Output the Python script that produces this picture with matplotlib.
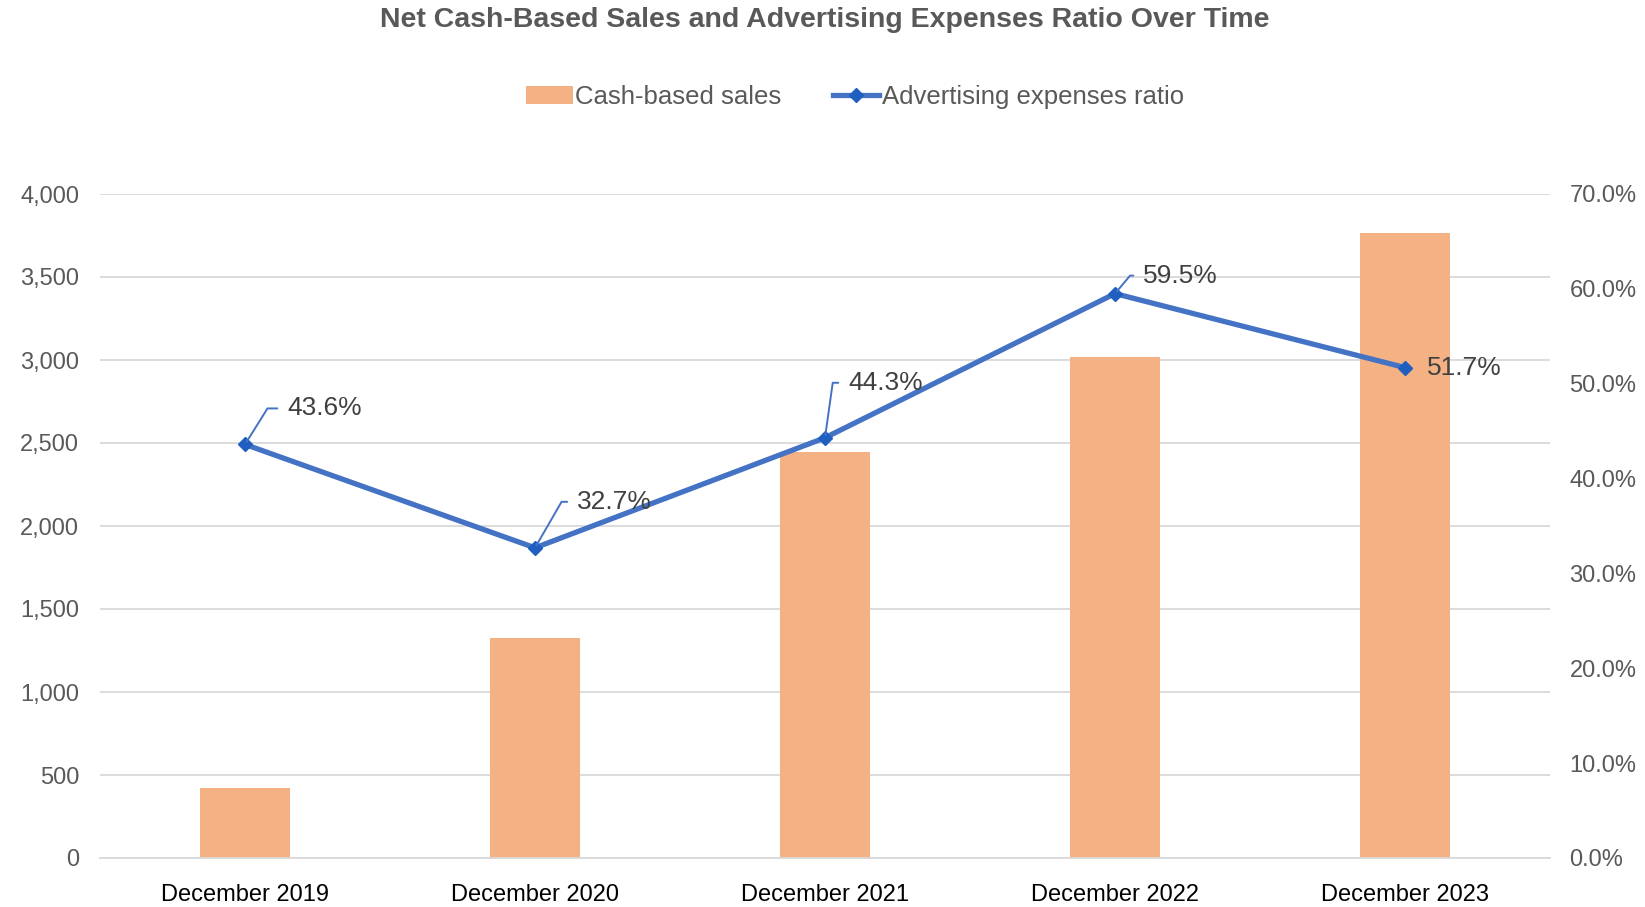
import matplotlib.pyplot as plt
import matplotlib.ticker as mticker

plt.rcParams['font.family'] = ['Liberation Sans', 'DejaVu Sans']

# data
periods = ['December 2019', 'December 2020', 'December 2021', 'December 2022', 'December 2023']
cash_sales = [423, 1327, 2448, 3016, 3768]
ad_ratio = [43.6, 32.7, 44.3, 59.5, 51.7]

# label offsets in pixels (dx, dy) and leader angle at the point
label_offsets = [(42, 36, 58), (42, 46, 60), (23, 55, 82), (28, 18, 50), (22, 0, None)]

bar_color = '#F4B183'
line_color = '#4472C4'
marker_color = '#1F5FBF'
grid_color = '#D9D9D9'
text_gray = '#595959'

fig = plt.figure(figsize=(16.45, 9.07), dpi=100)
ax = fig.add_axes([100 / 1645, 1 - 858 / 907, 1450 / 1645, 664 / 907])
ax2 = ax.twinx()

x = list(range(len(periods)))
ax.bar(x, cash_sales, width=0.31, color=bar_color, zorder=2, label='Cash-based sales')
ax.set_xlim(-0.5, len(periods) - 0.5)
ax.set_ylim(0, 4000)
ax.yaxis.set_major_locator(mticker.MultipleLocator(500))
ax.yaxis.set_major_formatter(mticker.FuncFormatter(lambda v, p: f'{v:,.0f}'))
ax.grid(axis='y', color=grid_color, linewidth=1.3, zorder=0)
ax.set_axisbelow(True)
ax.set_xticks(x)
ax.set_xticklabels(periods, fontsize=17, color='#000000')
ax.tick_params(axis='x', length=0, pad=19)
ax.tick_params(axis='y', length=0, pad=15, labelsize=17, labelcolor=text_gray)
for s in ['top', 'right', 'left']:
    ax.spines[s].set_visible(False)
ax.spines['bottom'].set_color(grid_color)
ax.spines['bottom'].set_linewidth(1.3)

ax2.plot(x, ad_ratio, color=line_color, linewidth=3.8, marker='D', markersize=7,
         markerfacecolor=marker_color, markeredgecolor=marker_color, zorder=3,
         label='Advertising expenses ratio')
ax2.set_ylim(0, 70)
ax2.yaxis.set_major_locator(mticker.MultipleLocator(10))
ax2.yaxis.set_major_formatter(mticker.FuncFormatter(lambda v, p: f'{v:.1f}%'))
ax2.tick_params(axis='y', length=0, pad=14, labelsize=17, labelcolor=text_gray)
for s in ax2.spines.values():
    s.set_visible(False)

for xi, val, (dx, dy, ang) in zip(x, ad_ratio, label_offsets):
    if ang is None:
        ax2.annotate(f'{val:.1f}%', xy=(xi, val), xytext=(dx, dy), textcoords='offset pixels',
                     ha='left', va='center', fontsize=19, color='#404040', zorder=5)
    else:
        ax2.annotate(f'{val:.1f}%', xy=(xi, val), xytext=(dx, dy), textcoords='offset pixels',
                     ha='left', va='center', fontsize=19, color='#404040', zorder=5,
                     arrowprops=dict(arrowstyle='-', color=line_color, linewidth=1.4,
                                     shrinkA=5, shrinkB=2, relpos=(0, 0.5),
                                     connectionstyle=f'angle,angleA=0,angleB={ang},rad=0'))

h1, l1 = ax.get_legend_handles_labels()
h2, l2 = ax2.get_legend_handles_labels()
fig.legend(h1 + h2, l1 + l2, loc='center', bbox_to_anchor=(855 / 1645, 1 - 97 / 907),
           ncol=2, frameon=False, fontsize=18.5, labelcolor=text_gray,
           handlelength=1.8, handletextpad=0.1, columnspacing=2.0)

fig.text(825 / 1645, 1 - 20 / 907, 'Net Cash-Based Sales and Advertising Expenses Ratio Over Time',
         ha='center', va='center', fontsize=20.5, fontweight='bold', color=text_gray)

fig.savefig('out.png', dpi=100)
